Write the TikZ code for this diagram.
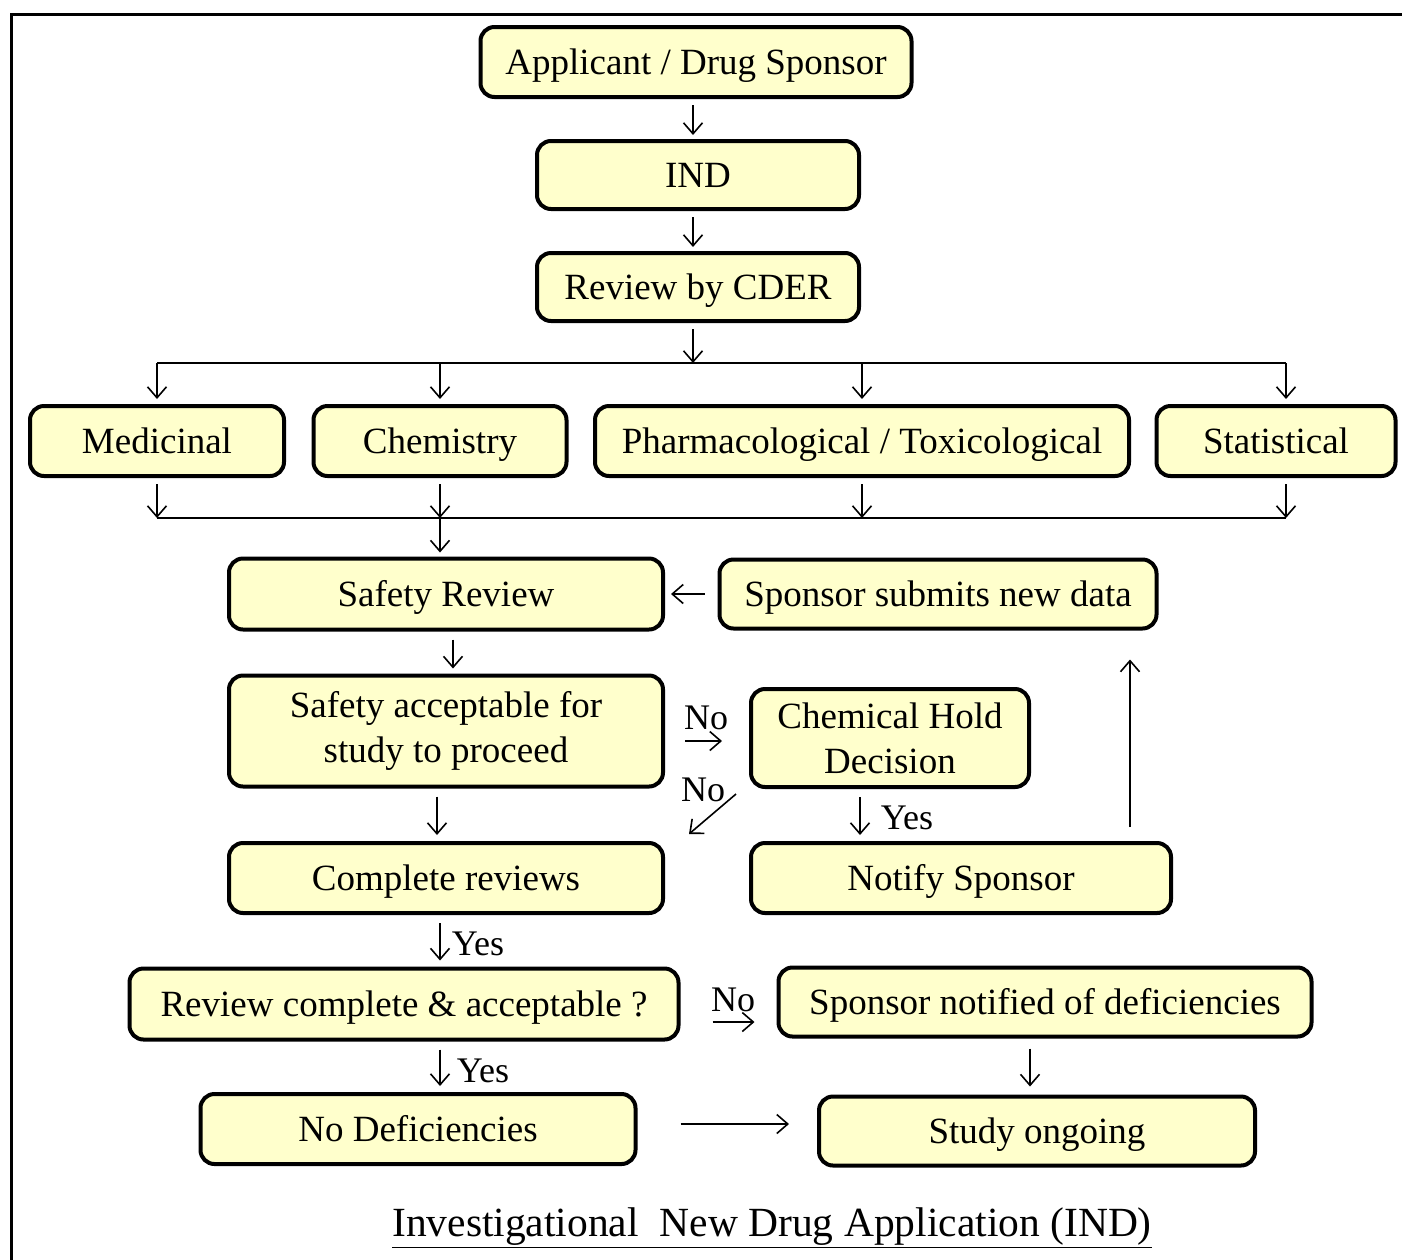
\documentclass[tikz,border=0pt]{standalone}
\usepackage{fontspec}
\setmainfont{Liberation Serif}
\usetikzlibrary{arrows.meta}
\definecolor{boxfill}{RGB}{255,255,204}
\begin{document}
\begin{tikzpicture}[x=1pt,y=-1pt,
  box/.style={draw=black, line width=4pt, rounded corners=14pt, fill=boxfill,
    font=\fontsize{37}{45}\selectfont, align=center, inner sep=0pt,
    text height=29pt, text depth=5pt},
  twoline/.style={text height={}, text depth={}, font=\fontsize{37}{45}\selectfont},
  arr/.style={line width=1.6pt, -{Straight Barb[length=11pt,width=19pt,line width=1.6pt]}},
  link/.style={line width=1.6pt},
  lbl/.style={font=\fontsize{36}{40}\selectfont, inner sep=0pt}]
\useasboundingbox (0,0) rectangle (1402,1259);
% frame
\draw[line width=3pt] (11,1265) -- (11,14) -- (1410,14);

% boxes
\node[box, minimum width=431, minimum height=70] (app)   at (696,62)  {Applicant / Drug Sponsor};
\node[box, minimum width=322, minimum height=68] (ind)   at (698,175) {IND};
\node[box, minimum width=322, minimum height=68] (cder)  at (698,287) {Review by CDER};
\node[box, minimum width=254, minimum height=70] (med)   at (157,441) {Medicinal};
\node[box, minimum width=253, minimum height=70] (chem)  at (440,441) {Chemistry};
\node[box, minimum width=534, minimum height=70] (pharm) at (862,441) {Pharmacological / Toxicological};
\node[box, minimum width=239, minimum height=70] (stat)  at (1276,441) {Statistical};
\node[box, minimum width=434, minimum height=71] (safe)  at (446,594) {Safety Review};
\node[box, minimum width=437, minimum height=69] (spons) at (938,594) {Sponsor submits new data};
\node[box, twoline, minimum width=434, minimum height=111] (acc)  at (446,731) {Safety acceptable for\\study to proceed};
\node[box, twoline, minimum width=278, minimum height=98] (chd)   at (890,738) {Chemical Hold\\Decision};
\node[box, minimum width=434, minimum height=70] (comp)  at (446,878) {Complete reviews};
\node[box, minimum width=420, minimum height=70] (notif) at (961,878) {Notify Sponsor};
\node[box, minimum width=549, minimum height=71] (rca)   at (404,1004) {Review complete \& acceptable ?};
\node[box, minimum width=533, minimum height=69] (snd)   at (1045,1002) {Sponsor notified of deficiencies};
\node[box, minimum width=435, minimum height=70] (nodef) at (418,1129) {No Deficiencies};
\node[box, minimum width=436, minimum height=69] (study) at (1037,1131) {Study ongoing};

% title
\node[font=\fontsize{41.5}{46}\selectfont, inner sep=0pt] (title) at (772,1228)
  {\underline{Investigational\ \ New Drug Application (IND)}};

% trunk
\draw[arr, shorten <=6pt, shorten >=4pt] ([shift={(-3,0)}]app.south) -- ([shift={(-3,0)}]app.south |- ind.north);
\draw[arr, shorten <=6pt, shorten >=4pt] ([shift={(-5,0)}]ind.south) -- ([shift={(-5,0)}]ind.south |- cder.north);

% distribution to the four reviews
\coordinate (top) at (0,363);
\coordinate (statx) at ([shift={(10,0)}]stat.north);
\draw[arr, shorten <=6pt] ([shift={(-5,0)}]cder.south) -- ([shift={(-5,0)}]cder.south |- top);
\draw[link] (med.north |- top) -- (statx |- top);
\draw[arr, shorten >=5pt] (med.north |- top) -- (med.north);
\draw[arr, shorten >=5pt] (chem.north |- top) -- (chem.north);
\draw[arr, shorten >=5pt] (pharm.north |- top) -- (pharm.north);
\draw[arr, shorten >=5pt] (statx |- top) -- (statx);

% collection into the safety review
\coordinate (bot) at (0,518);
\coordinate (staty) at ([shift={(10,0)}]stat.south);
\draw[link] (med.south |- bot) -- (staty |- bot);
\draw[arr, shorten <=6pt] (med.south) -- (med.south |- bot);
\draw[arr, shorten <=6pt] (chem.south) -- (chem.south |- bot);
\draw[arr, shorten <=6pt] (pharm.south) -- (pharm.south |- bot);
\draw[arr, shorten <=6pt] (staty) -- (staty |- bot);
\draw[arr, shorten >=4pt] (chem.south |- bot) -- (chem.south |- safe.north);

% new data back into the safety review
\draw[arr, shorten <=13pt, shorten >=6pt] (spons.west) -- (safe.east);

% safety decision
\draw[arr, shorten <=8pt, shorten >=5pt] ([shift={(7,0)}]safe.south) -- ([shift={(7,0)}]safe.south |- acc.north);
\draw[arr, shorten <=20pt, shorten >=27pt] (acc.east |- 0,741) -- (chd.west |- 0,741);
\node[lbl] (no1) at (706,718) {No};
\draw[arr] ([shift={(-13,5)}]chd.south west) -- ([shift={(24,-7)}]comp.north east);
\node[lbl] (no2) at (703,790) {No};
\draw[arr, shorten <=8pt, shorten >=6pt] ([shift={(-9,0)}]acc.south) -- ([shift={(-9,0)}]acc.south |- comp.north);

% chemical hold
\draw[arr, shorten <=8pt, shorten >=6pt] ([shift={(-30,0)}]chd.south) -- ([shift={(-30,0)}]chd.south |- notif.north);
\node[lbl] (yes1) at (907,818) {Yes};
\draw[arr, shorten <=14pt, shorten >=29pt] ([shift={(169,0)}]notif.north) -- ([shift={(169,0)}]notif.north |- spons.south);

% completion
\draw[arr, shorten <=8pt, shorten >=6pt] ([shift={(-6,0)}]comp.south) -- ([shift={(-6,0)}]comp.south |- rca.north);
\node[lbl] (yes2) at (478,944) {Yes};
\draw[arr, shorten <=32pt, shorten >=22pt] (rca.east |- 0,1022) -- (snd.west |- 0,1022);
\node[lbl] (no3) at (733,1000) {No};
\draw[arr, shorten <=8pt, shorten >=6pt] ([shift={(36,0)}]rca.south) -- ([shift={(36,0)}]rca.south |- nodef.north);
\node[lbl] (yes3) at (483,1071) {Yes};
\draw[arr, shorten <=10pt, shorten >=8pt] ([shift={(-15,0)}]snd.south) -- ([shift={(-15,0)}]snd.south |- study.north);
\draw[arr, shorten <=43pt, shorten >=28pt] (nodef.east |- 0,1124) -- (study.west |- 0,1124);
\end{tikzpicture}
\end{document}
